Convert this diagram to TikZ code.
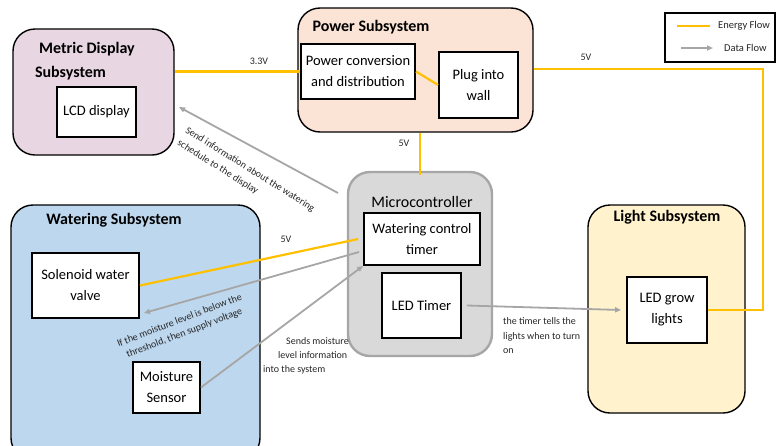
\documentclass[tikz,border=0pt]{standalone}
\usepackage{fontspec}
\setmainfont{Carlito}
\usetikzlibrary{arrows.meta,calc}
\definecolor{gold}{HTML}{FFC000}
\definecolor{arrowgray}{HTML}{A6A6A6}
\definecolor{mdfill}{HTML}{E8D6E2}
\definecolor{pwfill}{HTML}{FBE3D6}
\definecolor{wtfill}{HTML}{BDD7EE}
\definecolor{ltfill}{HTML}{FFF2CC}
\definecolor{mcfill}{HTML}{D9D9D9}
\definecolor{mcborder}{HTML}{A6A6A6}
\begin{document}
\begin{tikzpicture}[x=1pt,y=-1pt,
 sub/.style={draw=black, line width=1.4pt, rounded corners=22pt, inner sep=0pt},
 box/.style={draw=black, line width=1.8pt, fill=white, align=center, inner sep=0pt, font=\fontsize{14.5}{21}\selectfont},
 title/.style={font=\bfseries\fontsize{16}{20}\selectfont, inner sep=0pt},
 energy/.style={draw=gold, line width=2.2pt},
 data/.style={draw=arrowgray, line width=1.8pt, -{Triangle[length=6pt,width=5pt]}},
 lbl/.style={font=\fontsize{10}{14}\selectfont, text=black!85, inner sep=0pt},
]
\useasboundingbox (0,0) rectangle (777,445);
\clip (0,0) rectangle (777,445);

% subsystems
\node[sub, fill=mdfill, minimum width=161pt, minimum height=126pt] (md) at (93.5,92) {};
\node[sub, fill=pwfill, minimum width=235pt, minimum height=124pt] (pw) at (415.5,70) {};
\node[sub, fill=wtfill, minimum width=249pt, minimum height=255pt] (wt) at (135.5,332.5) {};
\node[sub, fill=ltfill, minimum width=157pt, minimum height=208pt] (lt) at (666.5,309) {};
\node[sub, draw=mcborder, line width=2.4pt, fill=mcfill, minimum width=144pt, minimum height=184pt] (mc) at (420,264) {};

% titles
\node[title] (tmd1) at (87,49) {Metric Display};
\node[title] (tmd2) at (70.5,73) {Subsystem};
\node[title] (tpw) at (371,27) {Power Subsystem};
\node[title] (twt) at (114,220) {Watering Subsystem};
\node[title] (tlt) at (667,217) {Light Subsystem};
\node[font=\fontsize{16}{20}\selectfont, inner sep=0pt] (tmc) at (422,202) {Microcontroller};

% inner boxes
\node[box, minimum width=79pt, minimum height=50pt] (lcd) at (96.5,112) {LCD display};
\node[box, minimum width=114pt, minimum height=55pt] (pc) at (358,71.5) {Power conversion\\and distribution};
\node[box, minimum width=79pt, minimum height=66pt] (plug) at (478.5,85) {Plug into\\wall};
\node[box, minimum width=116pt, minimum height=52pt] (wct) at (422,239) {Watering control\\timer};
\node[box, minimum width=79pt, minimum height=65pt] (ledt) at (421.5,305.5) {LED Timer};
\node[box, minimum width=107pt, minimum height=65pt] (sol) at (85.5,285.5) {Solenoid water\\valve};
\node[box, minimum width=67pt, minimum height=51pt] (ms) at (166.5,387.5) {Moisture\\Sensor};
\node[box, minimum width=80pt, minimum height=66pt] (lg) at (667,310) {LED grow\\lights};

% energy connectors
\draw[energy] (pc.west -| md.east) -- (pc.west);
\draw[energy] (pc.east) -- (plug.west);
\coordinate (rc) at (763,69);
\draw[energy] (pw.east |- rc) -- (rc) |- (lg.east);
\draw[energy] (pw.south -| mc.north) -- ([yshift=-4pt]mc.north);
\draw[energy] (sol.east) -- ([xshift=-5pt]wct.west);

% data connectors
\coordinate (d1s) at (338,193);
\coordinate (d1e) at (179,107);
\draw[data] (d1s) -- (d1e);
\coordinate (d2s) at (359,252);
\coordinate (d2e) at (144,313);
\draw[data] (d2s) -- (d2e);
\draw[data] (ms.east) -- (wct.south west);
\draw[data] ([xshift=5pt]ledt.east) -- ([xshift=-5pt]lg.west);

% labels
\node[lbl] (l33) at (259,61) {3.3V};
\node[lbl] (l5a) at (586,57) {5V};
\node[lbl] (l5b) at (404,143) {5V};
\node[lbl] (l5c) at (286,239) {5V};
\node[lbl, align=left, rotate=-32, font=\fontsize{10}{15}\selectfont] (lsend) at (246,176) {Send information about the watering\\schedule to the display};
\node[lbl, align=center, rotate=21, font=\fontsize{10}{13.5}\selectfont] (lif) at (182,327) {If the moisture level is below the\\threshold, then supply voltage};
\node[lbl, anchor=west] (ls1) at (286,341) {Sends moisture};
\node[lbl, anchor=west] (ls2) at (278,355) {level information};
\node[lbl, anchor=west] (ls3) at (263,370) {into the system};
\node[lbl, anchor=west, align=left, font=\fontsize{10}{14.5}\selectfont] (ltm) at (503,336) {the timer tells the\\lights when to turn\\on};

% legend
\node[draw=black, line width=1.4pt, minimum width=110pt, minimum height=49pt, inner sep=0pt] (leg) at (720,37.5) {};
\coordinate (le1) at (677,26);
\coordinate (le2) at (710,26);
\draw[energy] (le1) -- (le2);
\node[lbl, anchor=west, font=\fontsize{10.5}{13}\selectfont] (lef) at (718,26) {Energy Flow};
\coordinate (ld1) at (681,48);
\coordinate (ld2) at (713,48);
\draw[data] (ld1) -- (ld2);
\node[lbl, anchor=west, font=\fontsize{10.5}{13}\selectfont] (ldf) at (724,48) {Data Flow};
\end{tikzpicture}
\end{document}
